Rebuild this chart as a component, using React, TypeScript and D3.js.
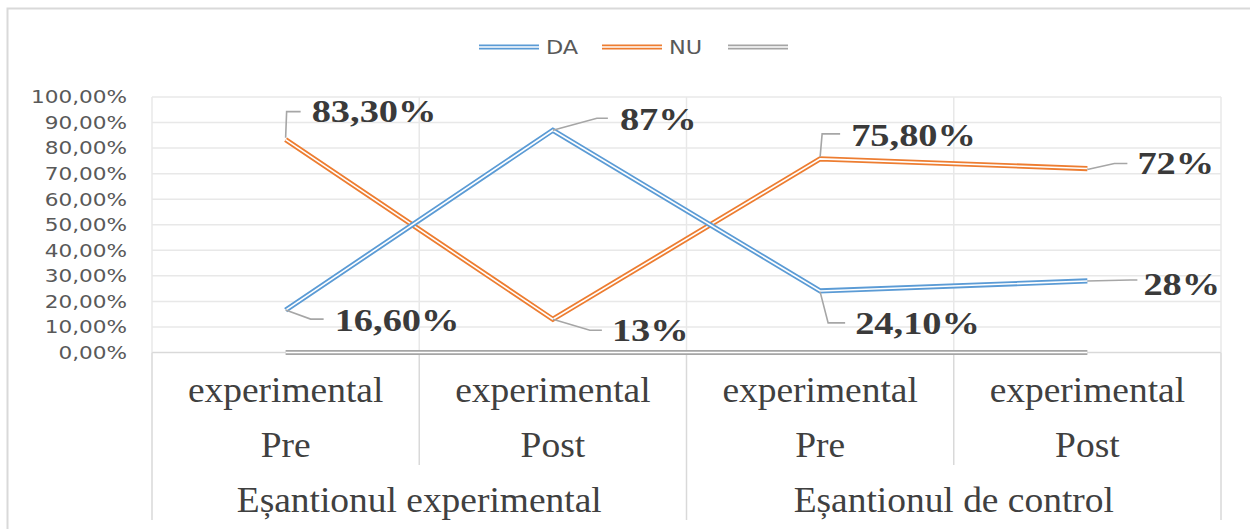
import React from "react";
import * as d3 from "d3";

const categories = ["exp-pre", "exp-post", "ctl-pre", "ctl-post"];
const topLabels = ["experimental", "experimental", "experimental", "experimental"];
const phaseLabels = ["Pre", "Post", "Pre", "Post"];
const groups = ["Eșantionul experimental", "Eșantionul de control"];
const seriesNames = ["DA", "NU", ""];
const daValues = [0.166, 0.87, 0.241, 0.28];
const nuValues = [0.833, 0.13, 0.758, 0.72];
const zeroValues = [0, 0, 0, 0];
const daLabels = ["16,60%", "87%", "24,10%", "28%"];
const nuLabels = ["83,30%", "13%", "75,80%", "72%"];
const yTicks = [0, 0.1, 0.2, 0.3, 0.4, 0.5, 0.6, 0.7, 0.8, 0.9, 1];

const COLORS = ["#5B9BD5", "#ED7D31", "#A5A5A5"];

// label layout: leader knots relative to point, and text offset
const daLayout = [
  { leader: [[0, 0], [25, 9], [38, 9]], tx: 49, ty: 10 },
  { leader: [[0, 0], [44, -12], [55, -12]], tx: 67, ty: -11 },
  { leader: [[0, 1], [8, 32], [25, 32]], tx: 35, ty: 32 },
  { leader: [[0, 0], [43, -1], [50, -1]], tx: 56, ty: 3 },
];
const nuLayout = [
  { leader: [[0, -2], [1, -28], [15, -28]], tx: 26, ty: -29 },
  { leader: [[0, 0], [37, 11], [49, 11]], tx: 59, ty: 11 },
  { leader: [[0, -2], [2, -25], [20, -25]], tx: 31, ty: -24 },
  { leader: [[0, 1], [27, -5], [40, -5]], tx: 50, ty: -5 },
];

export default function App() {
  const W = 1250, H = 529;
  const left = 152, right = 1221, top = 97, bottom = 352.5;
  const x = d3.scaleBand<string>().domain(categories).range([left, right]);
  const cx = (c: string) => (x(c) as number) + x.bandwidth() / 2;
  const y = d3.scaleLinear().domain([0, 1]).range([bottom, top]);
  const line = d3
    .line<number>()
    .x((_, i) => cx(categories[i]))
    .y((d) => y(d));
  const fmt = (v: number) => (v * 100).toFixed(2).replace(".", ",") + "%";
  const bounds = [left, ...categories.map((c) => (x(c) as number) + x.bandwidth())];
  const grid = "#E8E8E8";
  const labelLine = "#D9D9D9";
  const serif = "'Liberation Serif', 'Times New Roman', serif";
  const sans = "'DejaVu Sans', Verdana, sans-serif";

  const doubleLine = (vals: number[], color: string, key: string) => (
    <g key={key}>
      <path d={line(vals) || ""} fill="none" stroke={color} strokeWidth={5.2} strokeLinejoin="miter" />
      <path d={line(vals) || ""} fill="none" stroke="#fff" strokeWidth={1.6} strokeLinejoin="miter" />
    </g>
  );

  const dataLabels = (vals: number[], texts: string[], layout: typeof daLayout, key: string) => (
    <g key={key}>
      {vals.map((v, i) => {
        const px = cx(categories[i]);
        const py = y(v);
        const L = layout[i];
        const pts = L.leader.map(([dx, dy]) => `${px + dx},${py + dy}`).join(" ");
        return (
          <g key={i}>
            <polyline points={pts} fill="none" stroke="#A6A6A6" strokeWidth={1.6} />
            <text
              transform={`translate(${px + L.tx},${py + L.ty}) scale(1.24,1)`}
              dy="0.35em"
              fontFamily={serif}
              fontWeight="bold"
              fontSize={31}
              fill="#3A3A3A"
            >
              {texts[i]}
            </text>
          </g>
        );
      })}
    </g>
  );

  const legendItems = [
    { x: 479, color: COLORS[0], name: seriesNames[0] },
    { x: 602, color: COLORS[1], name: seriesNames[1] },
    { x: 728, color: COLORS[2], name: seriesNames[2] },
  ];

  return (
    <svg width={W} height={H} style={{ position: "absolute", left: 0, top: 0, background: "#fff" }}>
      {/* chart border */}
      <path d={`M7.5,${H} V8.5 H${W}`} fill="none" stroke="#D9D9D9" strokeWidth={2} />

      {/* legend */}
      {legendItems.map((l, i) => (
        <g key={i}>
          <line x1={l.x} x2={l.x + 60} y1={47} y2={47} stroke={l.color} strokeWidth={5.2} />
          <line x1={l.x} x2={l.x + 60} y1={47} y2={47} stroke="#fff" strokeWidth={1.6} />
          {l.name && (
            <text
              transform={`translate(${l.x + 67},47) scale(1.18,1)`}
              dy="0.35em"
              fontFamily={sans}
              fontSize={19}
              fill="#595959"
            >
              {l.name}
            </text>
          )}
        </g>
      ))}

      {/* horizontal gridlines */}
      {yTicks.map((t) => (
        <line key={t} x1={left} x2={right} y1={y(t)} y2={y(t)} stroke={t === 0 ? labelLine : grid} strokeWidth={1.5} />
      ))}
      {/* vertical gridlines in plot */}
      {bounds.map((b, i) => (
        <line key={"vg" + i} x1={b} x2={b} y1={top} y2={bottom} stroke={grid} strokeWidth={1.5} />
      ))}

      {/* y tick labels */}
      {yTicks.map((t) => (
        <text
          key={"yl" + t}
          transform={`translate(127,${y(t)}) scale(1.2,1)`}
          dy="0.35em"
          textAnchor="end"
          fontFamily={sans}
          fontSize={18}
          fill="#595959"
        >
          {fmt(t)}
        </text>
      ))}

      {/* category label area lines */}
      {bounds.map((b, i) => {
        const full = i % 2 === 0;
        return (
          <line key={"cl" + i} x1={b} x2={b} y1={bottom} y2={full ? 520 : 465} stroke={labelLine} strokeWidth={1.5} />
        );
      })}

      {/* category labels */}
      {categories.map((c, i) => (
        <g key={"cat" + i} fontFamily={serif} fontSize={35} fill="#404040" textAnchor="middle">
          <text transform={`translate(${cx(c)},402) scale(1.07,1)`}>{topLabels[i]}</text>
          <text transform={`translate(${cx(c)},457) scale(1.07,1)`}>{phaseLabels[i]}</text>
        </g>
      ))}
      {groups.map((g, gi) => {
        const gx = (bounds[gi * 2] + bounds[gi * 2 + 2]) / 2;
        return (
          <text
            key={"g" + gi}
            transform={`translate(${gx},512) scale(1.07,1)`}
            fontFamily={serif}
            fontSize={35}
            fill="#404040"
            textAnchor="middle"
          >
            {g}
          </text>
        );
      })}

      {/* series */}
      {doubleLine(zeroValues, COLORS[2], "zero")}
      {doubleLine(nuValues, COLORS[1], "nu")}
      {doubleLine(daValues, COLORS[0], "da")}

      {dataLabels(daValues, daLabels, daLayout, "dal")}
      {dataLabels(nuValues, nuLabels, nuLayout, "nul")}
    </svg>
  );
}
